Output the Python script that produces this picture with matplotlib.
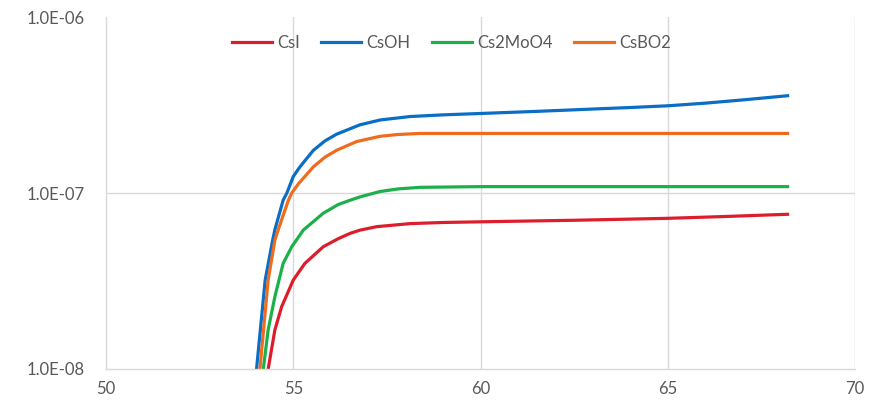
import matplotlib.pyplot as plt
import numpy as np

# values
x_csi = [54.28, 54.33, 54.51, 54.69, 55.0, 55.31, 55.8, 56.2, 56.52, 56.78, 57.23, 58.12, 59.0, 60.35, 62.5, 65.0, 66.5, 68.2]
y_csi = [8.5e-9, 1.0e-8, 1.67e-8, 2.26e-8, 3.2e-8, 3.98e-8, 4.95e-8, 5.5e-8, 5.9e-8, 6.15e-8, 6.44e-8, 6.7e-8, 6.8e-8, 6.88e-8, 7.0e-8, 7.18e-8, 7.35e-8, 7.57e-8]

x_csoh = [53.99, 54.02, 54.25, 54.45, 54.51, 54.73, 54.83, 55.0, 55.18, 55.54, 55.85, 56.16, 56.78, 57.32, 58.12, 59.0, 60.0, 61.5, 63.0, 64.0, 65.0, 66.0, 67.0, 68.2]
y_csoh = [8.5e-9, 1.0e-8, 3.2e-8, 5.4e-8, 6.2e-8, 9.1e-8, 1.0e-7, 1.24e-7, 1.41e-7, 1.75e-7, 1.98e-7, 2.16e-7, 2.44e-7, 2.6e-7, 2.72e-7, 2.78e-7, 2.83e-7, 2.91e-7, 3.0e-7, 3.06e-7, 3.13e-7, 3.24e-7, 3.38e-7, 3.57e-7]

x_cs2moo4 = [54.16, 54.2, 54.33, 54.51, 54.73, 54.96, 55.27, 55.8, 56.2, 56.52, 56.78, 57.32, 57.8, 58.38, 60.0, 65.0, 68.2]
y_cs2moo4 = [8.5e-9, 1.0e-8, 1.67e-8, 2.58e-8, 3.98e-8, 4.95e-8, 6.16e-8, 7.67e-8, 8.6e-8, 9.1e-8, 9.5e-8, 1.02e-7, 1.055e-7, 1.077e-7, 1.087e-7, 1.087e-7, 1.087e-7]

x_csbo2 = [54.08, 54.11, 54.33, 54.51, 54.6, 54.87, 54.96, 55.14, 55.54, 55.85, 56.16, 56.69, 57.32, 57.8, 58.38, 60.0, 65.0, 68.2]
y_csbo2 = [8.5e-9, 1.0e-8, 3.2e-8, 5.4e-8, 6.2e-8, 9.1e-8, 1.0e-7, 1.13e-7, 1.41e-7, 1.6e-7, 1.75e-7, 1.96e-7, 2.1e-7, 2.15e-7, 2.18e-7, 2.18e-7, 2.18e-7, 2.18e-7]

x_ticks = [50, 55, 60, 65, 70]
y_ticks = [1e-8, 1e-7, 1e-6]
y_ticklabels = ['1.0E-08', '1.0E-07', '1.0E-06']

plt.rcParams['font.family'] = ['Lato', 'DejaVu Sans']
txtcol = '#595959'
gridcol = '#d9d9d9'

fig = plt.figure(figsize=(8.79, 4.08), dpi=100)
ax = fig.add_axes([0.1206, 0.0956, 0.8521, 0.8627])

for v in x_ticks[1:]:
    ax.axvline(v, color=gridcol, lw=1.0, zorder=0)
ax.axhline(1e-7, color=gridcol, lw=1.0, zorder=0)

lw = 2.3
ax.plot(x_csi, y_csi, color='#DC1E2C', lw=lw, label='CsI')
ax.plot(x_csoh, y_csoh, color='#0A6EC4', lw=lw, label='CsOH')
ax.plot(x_cs2moo4, y_cs2moo4, color='#1CB04A', lw=lw, label='Cs2MoO4')
ax.plot(x_csbo2, y_csbo2, color='#EF6C1F', lw=lw, label='CsBO2')

ax.set_yscale('log')
ax.set_xlim(50, 70)
ax.set_ylim(1e-8, 1e-6)
ax.set_xticks(x_ticks)
ax.set_yticks(y_ticks)
ax.set_yticklabels(y_ticklabels)
ax.yaxis.set_minor_locator(plt.NullLocator())
ax.tick_params(axis='x', length=0, pad=9, labelsize=12, labelcolor=txtcol)
ax.tick_params(axis='y', length=0, pad=15, labelsize=12, labelcolor=txtcol)

for s in ['top', 'right']:
    ax.spines[s].set_visible(False)
for s in ['left', 'bottom']:
    ax.spines[s].set_color(gridcol)
    ax.spines[s].set_linewidth(1.0)

leg = ax.legend(loc='center', bbox_to_anchor=(0.461, 0.926), ncol=4, frameon=False,
                fontsize=12, handlelength=2.4, handletextpad=0.3, columnspacing=1.3)
for t in leg.get_texts():
    t.set_color(txtcol)

fig.savefig('out.png', dpi=100)
